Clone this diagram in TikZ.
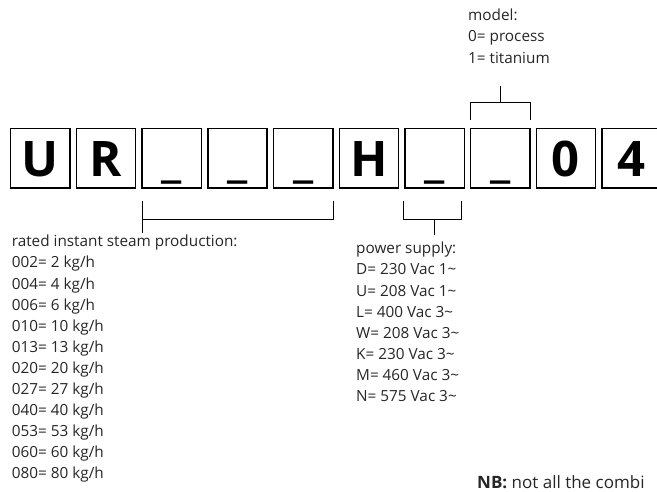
\documentclass[tikz,border=0pt]{standalone}
\usepackage{fontspec}
\setmainfont{Open Sans}
\usetikzlibrary{positioning}

\begin{document}
\begin{tikzpicture}[
  x=1pt,y=-1pt,
  node distance=5pt,
  digit/.style={rectangle,draw,line width=1.4pt,minimum width=59.3pt,minimum height=59.3pt,inner sep=0pt,font=\fontsize{49}{49}\selectfont\bfseries,text height=36pt,text depth=0pt},
  legend/.style={anchor=north west,align=left,inner sep=0pt,font=\fontsize{15.3}{21.1}\selectfont,text=black!85},
  bracket/.style={line width=0.8pt}
]
\useasboundingbox (0,0) rectangle (657,491);

% Code boxes
\node[digit] (cU) at (40.35,158.3) {U};
\node[digit,right=of cU] (cR) {R};
\node[digit,right=of cR] (cP1) {\_};
\node[digit,right=of cP1] (cP2) {\_};
\node[digit,right=of cP2] (cP3) {\_};
\node[digit,right=of cP3] (cH) {H};
\node[digit,right=of cH] (cV) {\_};
\node[digit,right=of cV] (cM) {\_};
\node[digit,right=of cM] (c0) {0};
\node[digit,right=of c0] (c4) {4};

% Legends
\node[legend] (model) at (468,9) {model:\\0= process\\1= titanium};
\node[legend] (prod) at (11.7,235) {rated instant steam production:\\002= 2 kg/h\\004= 4 kg/h\\006= 6 kg/h\\010= 10 kg/h\\013= 13 kg/h\\020= 20 kg/h\\027= 27 kg/h\\040= 40 kg/h\\053= 53 kg/h\\060= 60 kg/h\\080= 80 kg/h};
\node[legend] (power) at (356,242) {power supply:\\D= 230 Vac 1\char`~\\U= 208 Vac 1\char`~\\L= 400 Vac 3\char`~\\W= 208 Vac 3\char`~\\K= 230 Vac 3\char`~\\M= 460 Vac 3\char`~\\N= 575 Vac 3\char`~};
\node[anchor=base west,inner sep=0pt,font=\fontsize{17}{20}\selectfont,text=black!85] (nb) at (477,488) {\textbf{NB:} not all the combi};

% Brackets
\draw[bracket] ([yshift=-12pt]cP3.south east) |- ([xshift=1.4pt,yshift=-30.3pt]cP1.south west) coordinate (prodstem) -- ([xshift=1.4pt,yshift=-12pt]cP1.south west);
\draw[bracket] (prodstem) -- ([yshift=2pt]prodstem |- prod.north);
\draw[bracket] ([xshift=-0.7pt,yshift=-12pt]cV.south west) |- ([xshift=-3.3pt,yshift=-30.3pt]cV.south east) -- ([xshift=-3.3pt,yshift=-12pt]cV.south east);
\draw[bracket] ([yshift=-30.3pt]cV.south) -- ([yshift=-46pt]cV.south);
\draw[bracket] ([xshift=0.3pt,yshift=8pt]cM.north west) |- ([yshift=25.6pt]cM.north east) -- ([yshift=8pt]cM.north east);
\draw[bracket] ([yshift=25.6pt]cM.north) -- ([yshift=42pt]cM.north);
\end{tikzpicture}
\end{document}
